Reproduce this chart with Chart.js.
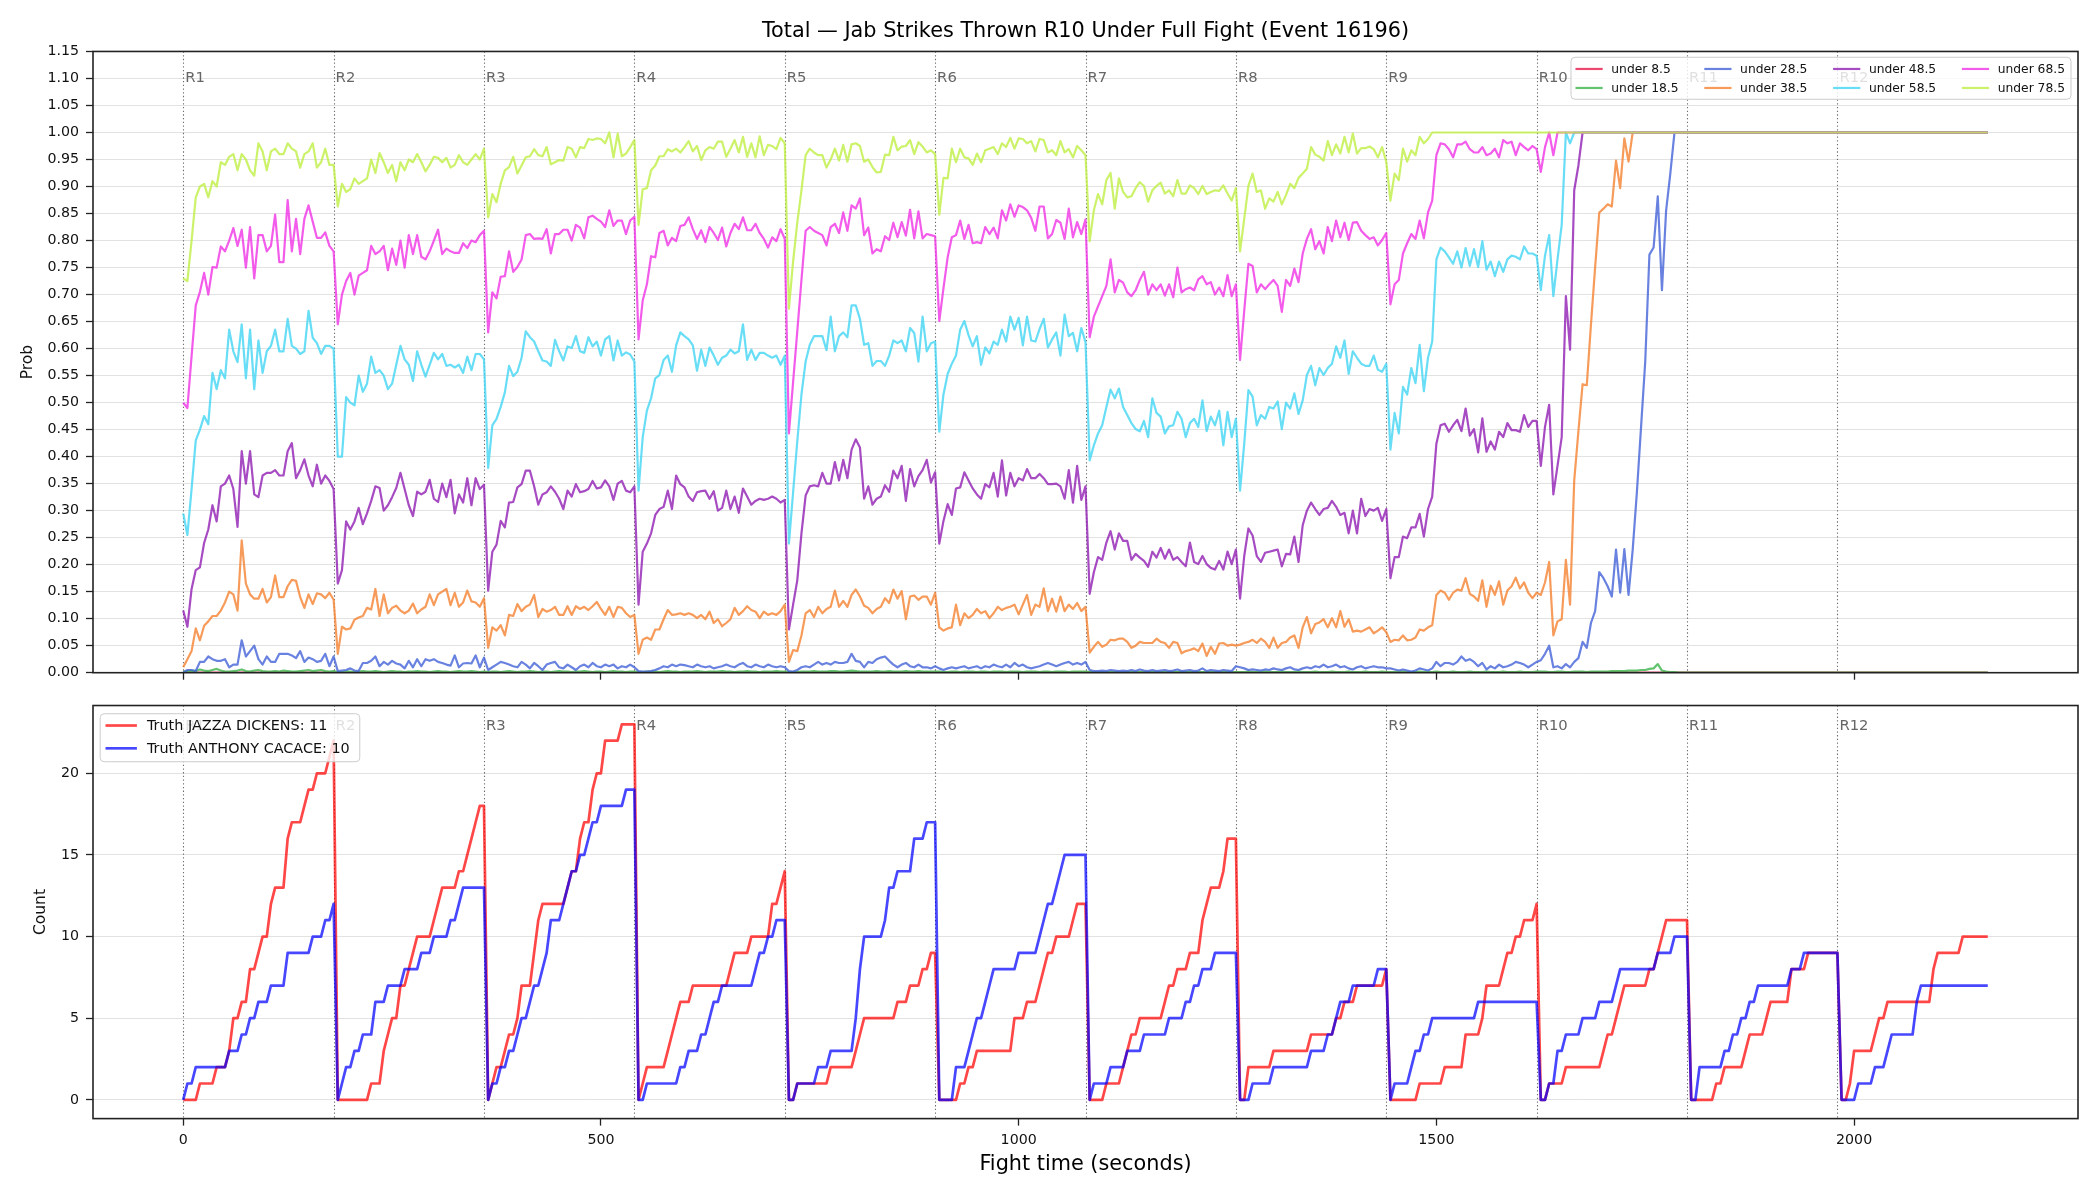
<!DOCTYPE html>
<html><head><meta charset="utf-8">
<script src="https://cdn.jsdelivr.net/npm/chart.js@4.4.1/dist/chart.umd.min.js"></script>
<style>
html,body{margin:0;padding:0;background:#fff;}
#wrap{position:relative;width:2100px;height:1200px;background:#fff;}
#topChart{position:absolute;left:0;top:0;}
#bottomChart{position:absolute;left:0;top:690px;}
</style></head><body>
<div id="wrap"><canvas id="topChart" width="2100" height="690"></canvas><canvas id="bottomChart" width="2100" height="510"></canvas></div>
<script>
// ---------------- DATA ----------------
const TITLE = 'Total — Jab Strikes Thrown R10 Under Full Fight (Event 16196)';
const X_LABEL = 'Fight time (seconds)';
const SAMPLE_SECONDS = 5;            // one sample every 5 s, t = 0 … 2160
const ROUND_STARTS = [0,180,360,540,720,900,1080,1260,1440,1620,1800,1980];
const ROUND_LABELS = ['R1','R2','R3','R4','R5','R6','R7','R8','R9','R10','R11','R12'];
const TIME_TICKS = [0,500,1000,1500,2000];
const PROB_TICKS = [0.00,0.05,0.10,0.15,0.20,0.25,0.30,0.35,0.40,0.45,0.50,0.55,0.60,0.65,0.70,0.75,0.80,0.85,0.90,0.95,1.00,1.05,1.10,1.15];
const COUNT_TICKS = [0,5,10,15,20];
const SERIES_LABELS = ['under 8.5','under 18.5','under 28.5','under 38.5','under 48.5','under 58.5','under 68.5','under 78.5'];
const FIGHTER_LABELS = ['Truth JAZZA DICKENS: 11','Truth ANTHONY CACACE: 10'];

const under85 = [
0,0,0,0,0,0,0,0,0,0,0,0,0,0,0,0,0,0,0,0,0,0,0,0,0,0,0,0,0,0,0,0,0,0,0,0,0,
0,0,0,0,0,0, 0,0,0,0,0,0, 0,0,0,0,0,0, 0,0,0,0,0,0, 0,0,0,0,0,0, 0,0,0,0,0,0,
0,0,0,0,0,0, 0,0,0,0,0,0, 0,0,0,0,0,0, 0,0,0,0,0,0, 0,0,0,0,0,0, 0,0,0,0,0,0,
0,0,0,0,0,0, 0,0,0,0,0,0, 0,0,0,0,0,0, 0,0,0,0,0,0, 0,0,0,0,0,0, 0,0,0,0,0,0,
0,0,0,0,0,0, 0,0,0,0,0,0, 0,0,0,0,0,0, 0,0,0,0,0,0, 0,0,0,0,0,0, 0,0,0,0,0,0,
0,0,0,0,0,0, 0,0,0,0,0,0, 0,0,0,0,0,0, 0,0,0,0,0,0, 0,0,0,0,0,0, 0,0,0,0,0,0,
0,0,0,0,0,0, 0,0,0,0,0,0, 0,0,0,0,0,0, 0,0,0,0,0,0, 0,0,0,0,0,0, 0,0,0,0,0,0,
0,0,0,0,0,0, 0,0,0,0,0,0, 0,0,0,0,0,0, 0,0,0,0,0,0, 0,0,0,0,0,0, 0,0,0,0,0,0,
0,0,0,0,0,0, 0,0,0,0,0,0, 0,0,0,0,0,0, 0,0,0,0,0,0, 0,0,0,0,0,0, 0,0,0,0,0,0,
0,0,0,0,0,0, 0,0,0,0,0,0, 0,0,0,0,0,0, 0,0,0,0,0,0, 0,0,0,0,0,0, 0,0,0,0,0,0,
0,0,0,0,0,0, 0,0,0,0,0,0, 0,0,0,0,0,0, 0,0,0,0,0,0, 0,0,0,0,0,0, 0,0,0,0,0,0,
0,0,0,0,0,0, 0,0,0,0,0,0, 0,0,0,0,0,0, 0,0,0,0,0,0, 0,0,0,0,0,0, 0,0,0,0,0,0
];
const under185 = [
0.002,0.003,0.004,0.003,0.006,0.004,0.003,0.005,0.007,0.004,0.002,0.002,0.003,0.004,0.006,0.003,0.002,0.004,0.005,0.003,0.002,0.002,0.003,0.002,0.004,0.003,0.002,0.002,0.003,0.004,0.005,0.003,0.004,0.005,0.003,0.002,0.003,
0.001,0.001,0.002,0.002,0.001,0.002,0.003,0.002,0.002,0.003,0.002,0.001,0.002,0.003,0.002,0.002,0.001,0.002,0.002,0.003,0.002,0.002,0.001,0.002,0.003,0.002,0.002,0.001,0.002,0.003,0.002,0.002,0.003,0.002,0.001,0.002,
0.001,0.002,0.002,0.001,0.002,0.003,0.002,0.001,0.002,0.002,0.003,0.002,0.001,0.002,0.002,0.001,0.002,0.003,0.002,0.002,0.001,0.002,0.002,0.003,0.002,0.001,0.002,0.002,0.001,0.002,0.003,0.002,0.002,0.001,0.002,0.002,
0.001,0.001,0.002,0.002,0.002,0.001,0.002,0.003,0.002,0.002,0.001,0.002,0.002,0.002,0.003,0.002,0.001,0.002,0.002,0.002,0.003,0.002,0.002,0.001,0.002,0.002,0.003,0.002,0.002,0.001,0.002,0.002,0.002,0.003,0.002,0.002,
0.001,0.001,0.001,0.002,0.002,0.002,0.003,0.002,0.002,0.002,0.003,0.003,0.002,0.002,0.003,0.004,0.003,0.002,0.002,0.002,0.002,0.003,0.002,0.002,0.003,0.002,0.002,0.002,0.003,0.002,0.002,0.003,0.002,0.002,0.002,0.002,
0.002,0.001,0.001,0.002,0.002,0.001,0.002,0.002,0.002,0.001,0.002,0.002,0.001,0.002,0.002,0.002,0.001,0.002,0.002,0.002,0.001,0.002,0.002,0.002,0.001,0.002,0.002,0.001,0.002,0.002,0.002,0.001,0.002,0.002,0.002,0.002,
0.001,0.001,0.001,0.001,0.001,0.001,0.001,0.001,0.001,0.001,0.001,0.001,0.001,0.001,0.001,0.001,0.001,0.001,0.001,0.001,0.001,0.001,0.001,0.001,0.001,0.001,0.001,0.001,0.001,0.001,0.001,0.001,0.001,0.001,0.001,0.001,
0.001,0.001,0.002,0.001,0.001,0.001,0.002,0.001,0.001,0.001,0.002,0.001,0.001,0.001,0.002,0.001,0.001,0.001,0.002,0.001,0.001,0.001,0.002,0.001,0.001,0.001,0.002,0.001,0.001,0.001,0.002,0.001,0.001,0.001,0.002,0.001,
0.001,0.001,0.001,0.002,0.001,0.001,0.001,0.002,0.001,0.001,0.001,0.002,0.001,0.001,0.001,0.002,0.001,0.001,0.001,0.002,0.001,0.001,0.001,0.002,0.001,0.001,0.001,0.002,0.001,0.001,0.001,0.002,0.001,0.001,0.001,0.002,
0.002,0.002,0.001,0.001,0.002,0.002,0.001,0.001,0.002,0.002,0.002,0.001,0.002,0.002,0.002,0.002,0.002,0.003,0.003,0.003,0.003,0.004,0.004,0.004,0.005,0.005,0.007,0.008,0.016,0.004,0.002,0.001,0.001,0,0,0,
0,0,0,0,0,0, 0,0,0,0,0,0, 0,0,0,0,0,0, 0,0,0,0,0,0, 0,0,0,0,0,0, 0,0,0,0,0,0,
0,0,0,0,0,0, 0,0,0,0,0,0, 0,0,0,0,0,0, 0,0,0,0,0,0, 0,0,0,0,0,0, 0,0,0,0,0,0
];
const under285 = [
0,0.005,0.005,0.003,0.02,0.02,0.03,0.025,0.022,0.022,0.025,0.01,0.015,0.015,0.06,0.03,0.04,0.05,0.025,0.015,0.03,0.02,0.02,0.035,0.035,0.035,0.032,0.027,0.04,0.02,0.028,0.025,0.02,0.022,0.035,0.012,0.03,
0.003,0.004,0.005,0.008,0.004,0.003,0.018,0.018,0.022,0.03,0.012,0.02,0.015,0.022,0.017,0.015,0.008,0.022,0.01,0.025,0.012,0.025,0.022,0.025,0.02,0.018,0.015,0.013,0.032,0.01,0.017,0.018,0.017,0.032,0.01,0.028,
0.005,0.01,0.015,0.02,0.018,0.015,0.012,0.01,0.02,0.015,0.008,0.018,0.012,0.005,0.015,0.018,0.02,0.01,0.008,0.015,0.01,0.005,0.012,0.015,0.01,0.018,0.012,0.01,0.015,0.012,0.015,0.008,0.012,0.01,0.015,0.01,
0.003,0.002,0.002,0.003,0.005,0.008,0.012,0.01,0.015,0.012,0.015,0.014,0.012,0.01,0.015,0.012,0.01,0.012,0.008,0.01,0.012,0.015,0.012,0.01,0.015,0.018,0.012,0.01,0.015,0.012,0.01,0.015,0.012,0.01,0.012,0.01,
0.003,0.002,0.005,0.01,0.012,0.01,0.015,0.02,0.015,0.018,0.015,0.02,0.018,0.018,0.02,0.035,0.022,0.02,0.01,0.02,0.018,0.025,0.028,0.03,0.022,0.015,0.01,0.015,0.018,0.012,0.01,0.015,0.01,0.01,0.008,0.012,
0.008,0.005,0.008,0.01,0.008,0.01,0.012,0.008,0.01,0.012,0.008,0.012,0.01,0.015,0.012,0.01,0.015,0.01,0.018,0.012,0.015,0.01,0.008,0.01,0.012,0.015,0.018,0.015,0.012,0.015,0.018,0.02,0.015,0.018,0.015,0.02,
0.005,0.003,0.003,0.004,0.003,0.005,0.004,0.003,0.004,0.003,0.005,0.003,0.006,0.004,0.003,0.005,0.003,0.004,0.005,0.003,0.004,0.006,0.003,0.004,0.005,0.003,0.004,0.008,0.003,0.005,0.004,0.003,0.005,0.004,0.003,0.012,
0.01,0.008,0.005,0.006,0.005,0.004,0.006,0.005,0.008,0.006,0.005,0.008,0.01,0.006,0.005,0.008,0.01,0.008,0.012,0.01,0.015,0.01,0.012,0.015,0.01,0.012,0.008,0.006,0.01,0.012,0.008,0.01,0.012,0.01,0.01,0.008,
0.008,0.006,0.004,0.006,0.004,0.002,0.004,0.008,0.006,0.004,0.008,0.02,0.012,0.018,0.018,0.015,0.02,0.03,0.022,0.025,0.02,0.012,0.018,0.006,0.012,0.008,0.015,0.01,0.012,0.015,0.02,0.018,0.015,0.01,0.015,0.02,
0.023,0.035,0.050,0.010,0.012,0.008,0.016,0.010,0.020,0.027,0.057,0.046,0.092,0.114,0.186,0.175,0.160,0.141,0.228,0.148,0.229,0.144,0.228,0.334,0.455,0.576,0.774,0.787,0.882,0.708,0.856,0.924,1,1,1,1,
1,1,1,1,1,1, 1,1,1,1,1,1, 1,1,1,1,1,1, 1,1,1,1,1,1, 1,1,1,1,1,1, 1,1,1,1,1,1,
1,1,1,1,1,1, 1,1,1,1,1,1, 1,1,1,1,1,1, 1,1,1,1,1,1, 1,1,1,1,1,1, 1,1,1,1,1,1
];
const under385 = [
0.01,0.025,0.04,0.082,0.06,0.087,0.095,0.105,0.105,0.115,0.13,0.15,0.145,0.115,0.245,0.165,0.145,0.137,0.137,0.155,0.13,0.14,0.18,0.14,0.14,0.16,0.172,0.17,0.14,0.12,0.145,0.127,0.147,0.145,0.138,0.148,0.135,
0.035,0.085,0.08,0.082,0.098,0.102,0.105,0.12,0.117,0.155,0.105,0.145,0.11,0.12,0.124,0.115,0.11,0.115,0.128,0.11,0.117,0.122,0.145,0.125,0.145,0.15,0.155,0.125,0.148,0.122,0.13,0.152,0.132,0.13,0.122,0.138,
0.046,0.084,0.078,0.088,0.069,0.107,0.105,0.127,0.114,0.122,0.126,0.144,0.103,0.118,0.113,0.116,0.122,0.107,0.107,0.123,0.107,0.123,0.118,0.122,0.116,0.123,0.131,0.118,0.107,0.122,0.103,0.122,0.120,0.110,0.103,0.107,
0.035,0.061,0.065,0.061,0.080,0.080,0.099,0.116,0.107,0.108,0.110,0.107,0.110,0.107,0.101,0.107,0.099,0.113,0.092,0.099,0.086,0.092,0.099,0.120,0.107,0.114,0.123,0.116,0.113,0.101,0.113,0.107,0.110,0.107,0.114,0.126,
0.020,0.042,0.040,0.069,0.110,0.116,0.103,0.122,0.110,0.118,0.122,0.152,0.122,0.133,0.122,0.144,0.154,0.141,0.124,0.120,0.110,0.118,0.122,0.138,0.129,0.154,0.137,0.151,0.099,0.141,0.143,0.135,0.141,0.141,0.126,0.148,
0.084,0.078,0.082,0.084,0.126,0.088,0.110,0.101,0.107,0.118,0.110,0.114,0.101,0.110,0.122,0.116,0.120,0.122,0.126,0.108,0.126,0.144,0.107,0.126,0.122,0.156,0.114,0.137,0.113,0.141,0.114,0.126,0.118,0.129,0.114,0.122,
0.037,0.048,0.057,0.048,0.052,0.061,0.060,0.063,0.063,0.057,0.046,0.050,0.057,0.055,0.055,0.055,0.063,0.057,0.055,0.046,0.057,0.055,0.036,0.040,0.042,0.045,0.040,0.054,0.031,0.048,0.035,0.054,0.055,0.050,0.052,0.050,
0.052,0.055,0.057,0.061,0.055,0.063,0.057,0.046,0.065,0.046,0.055,0.057,0.065,0.069,0.046,0.084,0.103,0.073,0.090,0.093,0.099,0.084,0.101,0.084,0.114,0.085,0.099,0.076,0.078,0.076,0.080,0.084,0.073,0.078,0.084,0.075,
0.057,0.061,0.060,0.069,0.060,0.061,0.065,0.080,0.078,0.084,0.088,0.144,0.152,0.148,0.135,0.148,0.154,0.152,0.175,0.146,0.141,0.133,0.171,0.122,0.161,0.144,0.169,0.126,0.152,0.160,0.176,0.156,0.167,0.148,0.138,0.148,
0.144,0.167,0.205,0.069,0.095,0.099,0.209,0.126,0.356,0.447,0.534,0.532,0.644,0.750,0.852,0.859,0.867,0.863,0.948,0.897,0.989,0.946,
1,1,1,1,1,1, 1,1,1,1,1,1, 1,1,
1,1,1,1,1,1, 1,1,1,1,1,1, 1,1,1,1,1,1, 1,1,1,1,1,1, 1,1,1,1,1,1, 1,1,1,1,1,1,
1,1,1,1,1,1, 1,1,1,1,1,1, 1,1,1,1,1,1, 1,1,1,1,1,1, 1,1,1,1,1,1, 1,1,1,1,1,1
];
const under485 = [
0.115,0.085,0.155,0.19,0.195,0.24,0.265,0.31,0.28,0.345,0.35,0.365,0.34,0.27,0.41,0.35,0.41,0.33,0.325,0.365,0.37,0.37,0.375,0.365,0.365,0.41,0.425,0.36,0.375,0.395,0.365,0.345,0.385,0.35,0.365,0.355,0.34,
0.165,0.19,0.28,0.265,0.28,0.305,0.275,0.295,0.318,0.345,0.342,0.30,0.31,0.325,0.342,0.37,0.34,0.31,0.29,0.335,0.33,0.335,0.357,0.322,0.316,0.35,0.325,0.357,0.295,0.33,0.315,0.36,0.31,0.36,0.34,0.348,
0.152,0.224,0.237,0.281,0.269,0.315,0.316,0.343,0.349,0.374,0.374,0.345,0.311,0.330,0.334,0.345,0.335,0.322,0.303,0.337,0.326,0.349,0.334,0.336,0.340,0.355,0.341,0.343,0.356,0.345,0.320,0.350,0.355,0.337,0.334,0.345,
0.126,0.224,0.239,0.258,0.292,0.303,0.307,0.337,0.303,0.365,0.349,0.343,0.326,0.318,0.334,0.336,0.337,0.322,0.336,0.300,0.305,0.337,0.303,0.326,0.296,0.341,0.326,0.311,0.318,0.322,0.320,0.322,0.326,0.322,0.315,0.320,
0.080,0.126,0.171,0.258,0.328,0.345,0.347,0.345,0.370,0.350,0.350,0.390,0.356,0.394,0.360,0.413,0.432,0.417,0.322,0.345,0.311,0.322,0.326,0.347,0.335,0.374,0.360,0.383,0.318,0.377,0.345,0.364,0.375,0.394,0.352,0.371,
0.239,0.281,0.312,0.292,0.341,0.343,0.371,0.356,0.341,0.330,0.322,0.349,0.343,0.370,0.326,0.393,0.328,0.370,0.345,0.360,0.356,0.377,0.360,0.360,0.368,0.360,0.349,0.349,0.350,0.345,0.322,0.375,0.315,0.383,0.320,0.345,
0.146,0.186,0.214,0.209,0.241,0.262,0.228,0.258,0.244,0.244,0.209,0.220,0.213,0.207,0.196,0.224,0.213,0.231,0.211,0.228,0.209,0.214,0.205,0.197,0.241,0.205,0.201,0.216,0.201,0.194,0.191,0.207,0.191,0.224,0.201,0.228,
0.137,0.216,0.267,0.254,0.216,0.205,0.222,0.224,0.226,0.228,0.197,0.220,0.219,0.252,0.205,0.273,0.300,0.315,0.303,0.292,0.303,0.305,0.318,0.307,0.292,0.296,0.258,0.300,0.258,0.322,0.290,0.303,0.300,0.305,0.281,0.303,
0.175,0.214,0.214,0.252,0.249,0.269,0.269,0.294,0.252,0.303,0.326,0.424,0.458,0.461,0.446,0.458,0.468,0.447,0.489,0.439,0.451,0.408,0.471,0.409,0.428,0.413,0.446,0.436,0.462,0.449,0.449,0.446,0.477,0.455,0.466,0.466,
0.383,0.455,0.496,0.330,0.383,0.436,0.697,0.598,0.893,0.939,
1,1,1,1,1,1, 1,1,1,1,1,1, 1,1,1,1,1,1, 1,1,1,1,1,1, 1,1,
1,1,1,1,1,1, 1,1,1,1,1,1, 1,1,1,1,1,1, 1,1,1,1,1,1, 1,1,1,1,1,1, 1,1,1,1,1,1,
1,1,1,1,1,1, 1,1,1,1,1,1, 1,1,1,1,1,1, 1,1,1,1,1,1, 1,1,1,1,1,1, 1,1,1,1,1,1
];
const under585 = [
0.295,0.255,0.34,0.43,0.45,0.475,0.46,0.555,0.525,0.56,0.545,0.635,0.595,0.575,0.645,0.545,0.635,0.525,0.615,0.555,0.595,0.605,0.635,0.595,0.595,0.655,0.605,0.60,0.59,0.595,0.67,0.62,0.61,0.59,0.605,0.605,0.60,
0.40,0.40,0.51,0.50,0.495,0.55,0.52,0.535,0.585,0.555,0.56,0.55,0.525,0.535,0.57,0.605,0.58,0.57,0.54,0.595,0.57,0.548,0.57,0.592,0.58,0.59,0.568,0.57,0.565,0.57,0.555,0.585,0.56,0.59,0.59,0.58,
0.379,0.458,0.470,0.492,0.519,0.568,0.549,0.557,0.583,0.632,0.621,0.613,0.595,0.578,0.576,0.568,0.616,0.595,0.578,0.604,0.601,0.623,0.595,0.592,0.621,0.604,0.613,0.587,0.617,0.623,0.578,0.615,0.587,0.593,0.589,0.576,
0.337,0.436,0.485,0.508,0.545,0.551,0.579,0.587,0.557,0.606,0.630,0.623,0.617,0.606,0.559,0.598,0.568,0.602,0.587,0.570,0.583,0.587,0.598,0.591,0.595,0.645,0.579,0.598,0.579,0.592,0.592,0.587,0.583,0.587,0.570,0.587,
0.239,0.334,0.428,0.515,0.576,0.607,0.623,0.623,0.623,0.597,0.659,0.595,0.623,0.630,0.621,0.680,0.680,0.655,0.607,0.610,0.568,0.577,0.577,0.568,0.587,0.615,0.610,0.615,0.595,0.638,0.629,0.576,0.659,0.595,0.610,0.613,
0.446,0.515,0.553,0.572,0.587,0.635,0.651,0.625,0.604,0.623,0.570,0.602,0.591,0.613,0.607,0.635,0.613,0.659,0.635,0.657,0.606,0.659,0.615,0.613,0.636,0.655,0.602,0.617,0.630,0.587,0.663,0.623,0.629,0.595,0.638,0.612,
0.393,0.421,0.443,0.458,0.492,0.524,0.508,0.526,0.492,0.477,0.462,0.451,0.447,0.466,0.436,0.508,0.481,0.474,0.443,0.456,0.458,0.483,0.470,0.436,0.462,0.470,0.455,0.504,0.447,0.474,0.458,0.485,0.421,0.483,0.436,0.470,
0.337,0.424,0.523,0.511,0.458,0.477,0.470,0.492,0.489,0.502,0.451,0.500,0.489,0.517,0.479,0.504,0.551,0.568,0.532,0.564,0.551,0.564,0.572,0.604,0.583,0.615,0.553,0.595,0.583,0.572,0.568,0.568,0.587,0.561,0.557,0.572,
0.413,0.481,0.443,0.529,0.515,0.564,0.536,0.607,0.521,0.583,0.613,0.765,0.787,0.780,0.769,0.757,0.780,0.750,0.786,0.753,0.784,0.751,0.799,0.746,0.761,0.734,0.761,0.742,0.765,0.772,0.770,0.765,0.789,0.776,0.776,0.772,
0.708,0.772,0.810,0.697,0.765,0.829,1,0.980,1,
1,1,1,1,1,1, 1,1,1,1,1,1, 1,1,1,1,1,1, 1,1,1,1,1,1, 1,1,1,
1,1,1,1,1,1, 1,1,1,1,1,1, 1,1,1,1,1,1, 1,1,1,1,1,1, 1,1,1,1,1,1, 1,1,1,1,1,1,
1,1,1,1,1,1, 1,1,1,1,1,1, 1,1,1,1,1,1, 1,1,1,1,1,1, 1,1,1,1,1,1, 1,1,1,1,1,1
];
const under685 = [
0.50,0.49,0.586,0.68,0.705,0.74,0.70,0.751,0.75,0.789,0.78,0.80,0.823,0.79,0.82,0.75,0.825,0.73,0.81,0.81,0.78,0.79,0.848,0.76,0.76,0.875,0.78,0.84,0.775,0.84,0.865,0.835,0.805,0.805,0.815,0.79,0.78,
0.645,0.70,0.725,0.74,0.70,0.735,0.74,0.745,0.79,0.775,0.78,0.79,0.745,0.785,0.755,0.80,0.75,0.81,0.775,0.81,0.77,0.765,0.78,0.80,0.82,0.775,0.785,0.78,0.777,0.777,0.795,0.786,0.80,0.797,0.81,0.818,
0.630,0.704,0.693,0.733,0.734,0.780,0.742,0.751,0.765,0.810,0.812,0.803,0.804,0.803,0.821,0.776,0.812,0.812,0.820,0.820,0.800,0.829,0.824,0.804,0.843,0.846,0.840,0.835,0.825,0.856,0.827,0.837,0.837,0.812,0.837,0.844,
0.617,0.689,0.719,0.771,0.769,0.814,0.818,0.791,0.805,0.799,0.827,0.829,0.843,0.821,0.803,0.819,0.797,0.825,0.814,0.801,0.824,0.789,0.814,0.831,0.821,0.843,0.819,0.819,0.831,0.814,0.803,0.787,0.806,0.799,0.821,0.803,
0.443,0.538,0.632,0.727,0.818,0.825,0.818,0.814,0.810,0.791,0.825,0.831,0.814,0.852,0.818,0.865,0.859,0.878,0.810,0.824,0.776,0.784,0.780,0.808,0.801,0.833,0.806,0.834,0.809,0.857,0.804,0.854,0.804,0.812,0.810,0.808,
0.651,0.712,0.769,0.806,0.810,0.837,0.803,0.829,0.795,0.797,0.795,0.825,0.812,0.824,0.804,0.856,0.837,0.867,0.844,0.865,0.862,0.856,0.842,0.818,0.863,0.863,0.804,0.812,0.838,0.833,0.803,0.859,0.806,0.834,0.812,0.839,
0.621,0.659,0.678,0.697,0.716,0.765,0.704,0.727,0.722,0.704,0.697,0.708,0.727,0.742,0.700,0.719,0.708,0.719,0.698,0.719,0.695,0.750,0.704,0.710,0.713,0.708,0.728,0.734,0.719,0.723,0.700,0.713,0.697,0.736,0.697,0.719,
0.579,0.670,0.757,0.753,0.704,0.719,0.710,0.719,0.727,0.716,0.668,0.727,0.716,0.748,0.723,0.776,0.803,0.821,0.784,0.799,0.776,0.825,0.799,0.837,0.806,0.833,0.801,0.833,0.834,0.818,0.810,0.803,0.806,0.791,0.801,0.814,
0.682,0.719,0.727,0.776,0.795,0.812,0.803,0.837,0.804,0.852,0.874,0.958,0.980,0.978,0.969,0.954,0.978,0.978,0.983,0.969,0.963,0.963,0.973,0.958,0.961,0.970,0.954,0.986,0.980,0.983,0.958,0.980,0.973,0.967,0.975,0.969,
0.927,0.973,1,0.958,
1,1,1,1,1,1, 1,1,1,1,1,1, 1,1,1,1,1,1, 1,1,1,1,1,1, 1,1,1,1,1,1, 1,1,
1,1,1,1,1,1, 1,1,1,1,1,1, 1,1,1,1,1,1, 1,1,1,1,1,1, 1,1,1,1,1,1, 1,1,1,1,1,1,
1,1,1,1,1,1, 1,1,1,1,1,1, 1,1,1,1,1,1, 1,1,1,1,1,1, 1,1,1,1,1,1, 1,1,1,1,1,1
];
const under785 = [
0.73,0.725,0.80,0.88,0.90,0.905,0.88,0.91,0.90,0.945,0.94,0.955,0.96,0.93,0.96,0.95,0.93,0.92,0.98,0.965,0.93,0.965,0.97,0.96,0.96,0.98,0.97,0.965,0.935,0.96,0.965,0.98,0.935,0.945,0.97,0.94,0.94,
0.863,0.905,0.89,0.895,0.915,0.905,0.91,0.915,0.95,0.925,0.962,0.945,0.925,0.94,0.91,0.945,0.93,0.95,0.945,0.96,0.945,0.928,0.94,0.955,0.953,0.945,0.953,0.935,0.94,0.958,0.945,0.94,0.95,0.96,0.95,0.97,
0.843,0.886,0.871,0.905,0.930,0.936,0.955,0.924,0.939,0.954,0.956,0.969,0.958,0.956,0.973,0.941,0.945,0.949,0.948,0.973,0.970,0.954,0.973,0.971,0.988,0.986,0.989,0.988,0.980,1.0,0.954,0.998,0.956,0.961,0.973,0.986,
0.829,0.895,0.897,0.930,0.939,0.956,0.956,0.969,0.965,0.970,0.963,0.973,0.984,0.965,0.975,0.949,0.967,0.973,0.970,0.983,0.983,0.955,0.970,0.986,0.963,0.992,0.955,0.980,0.954,0.993,0.958,0.977,0.975,0.969,0.990,0.980,
0.674,0.761,0.833,0.893,0.958,0.970,0.963,0.958,0.958,0.935,0.950,0.970,0.948,0.977,0.946,0.978,0.980,0.975,0.946,0.950,0.936,0.926,0.927,0.959,0.958,0.992,0.967,0.974,0.975,0.986,0.960,0.982,0.974,0.963,0.967,0.960,
0.848,0.916,0.915,0.970,0.945,0.970,0.954,0.952,0.940,0.961,0.945,0.967,0.970,0.973,0.960,0.980,0.973,0.990,0.970,0.989,0.988,0.980,0.984,0.965,0.988,0.986,0.963,0.967,0.958,0.984,0.963,0.969,0.954,0.975,0.967,0.958,
0.799,0.856,0.886,0.867,0.912,0.925,0.859,0.915,0.890,0.880,0.882,0.897,0.908,0.901,0.872,0.893,0.901,0.907,0.887,0.893,0.882,0.912,0.887,0.887,0.902,0.897,0.886,0.901,0.886,0.890,0.893,0.892,0.902,0.887,0.874,0.897,
0.780,0.840,0.901,0.924,0.890,0.893,0.859,0.878,0.872,0.890,0.867,0.884,0.905,0.897,0.916,0.924,0.933,0.973,0.959,0.955,0.948,0.984,0.958,0.978,0.961,0.992,0.963,0.998,0.961,0.971,0.971,0.974,0.969,0.954,0.973,0.946,
0.874,0.924,0.912,0.970,0.946,0.967,0.958,0.992,0.980,0.988,1,
1,1,1,1,1,1, 1,1,1,1,1,1, 1,1,1,1,1,1, 1,1,1,1,1,1, 1,
1,1,1,1,1,1, 1,1,1,1,1,1, 1,1,1,1,1,1, 1,1,1,1,1,1, 1,1,1,1,1,1, 1,1,1,1,1,1,
1,1,1,1,1,1, 1,1,1,1,1,1, 1,1,1,1,1,1, 1,1,1,1,1,1, 1,1,1,1,1,1, 1,1,1,1,1,1,
1,1,1,1,1,1, 1,1,1,1,1,1, 1,1,1,1,1,1, 1,1,1,1,1,1, 1,1,1,1,1,1, 1,1,1,1,1,1
];

// cumulative jab counts per round (resets each round), same 5 s sampling
const jazzaCounts = [
0,0,0,0,1,1,1,1,2,2,2,3,5,5,6,6,8,8,9,10,10,12,13,13,13,16,17,17,17,18,19,19,20,20,20,21,22,
0,0,0,0,0,0,0,0,1,1,1,3,4,5,5,7,7,8,9,10,10,10,10,11,12,13,13,13,13,14,14,15,16,17,18,18,
0,1,2,2,3,4,4,5,7,7,7,9,11,12,12,12,12,12,12,13,14,14,16,17,17,19,20,20,22,22,22,22,23,23,23,23,
0,1,2,2,2,2,2,3,4,5,6,6,6,7,7,7,7,7,7,7,7,7,8,9,9,9,9,10,10,10,10,10,12,12,13,14,
0,0,1,1,1,1,1,1,1,1,2,2,2,2,2,2,3,4,5,5,5,5,5,5,5,5,6,6,6,7,7,7,8,8,9,9,
0,0,0,0,0,1,1,2,2,3,3,3,3,3,3,3,3,3,5,5,5,6,6,6,7,8,9,9,10,10,10,10,11,12,12,12,
0,0,0,0,1,1,1,1,2,3,4,4,5,5,5,5,5,5,6,7,7,8,8,8,9,9,9,11,12,13,13,13,14,16,16,16,
0,0,2,2,2,2,2,2,3,3,3,3,3,3,3,3,3,4,4,4,4,4,4,5,5,6,6,6,7,7,7,7,7,7,7,8,
0,0,0,0,0,0,0,1,1,1,1,1,1,2,2,2,2,2,4,4,4,4,5,7,7,7,7,8,9,9,10,10,11,11,11,12,
0,0,1,1,1,1,2,2,2,2,2,2,2,2,2,3,4,4,5,6,7,7,7,7,7,7,8,8,9,10,11,11,11,11,11,11,
0,0,0,0,0,0,1,1,2,2,2,2,2,3,4,4,4,4,5,6,6,6,6,6,8,8,8,8,9,9,9,9,9,9,9,9,
0,0,1,3,3,3,3,3,4,5,5,6,6,6,6,6,6,6,6,6,6,6,8,9,9,9,9,9,9,10,10,10,10,10,10,10
];
const cacaceCounts = [
0,1,1,2,2,2,2,2,2,2,2,3,3,3,4,4,5,5,6,6,6,7,7,7,7,9,9,9,9,9,9,10,10,10,11,11,12,
0,1,2,2,3,3,4,4,4,6,6,6,7,7,7,7,8,8,8,8,9,9,9,10,10,10,10,11,11,12,13,13,13,13,13,13,
0,1,1,2,2,3,3,4,5,5,6,7,7,8,9,11,11,11,12,13,14,14,15,15,16,17,17,18,18,18,18,18,18,19,19,19,
0,0,1,1,1,1,1,1,1,1,2,2,3,3,3,4,4,5,6,6,7,7,7,7,7,7,7,7,8,9,9,10,10,11,11,11,
0,0,1,1,1,1,1,2,2,2,3,3,3,3,3,3,5,8,10,10,10,10,10,11,13,13,14,14,14,14,16,16,16,17,17,17,
0,0,0,0,2,2,2,3,4,5,5,6,7,8,8,8,8,8,8,9,9,9,9,9,10,11,12,12,13,14,15,15,15,15,15,15,
0,1,1,1,1,2,2,2,2,3,3,3,3,4,4,4,4,4,4,5,5,5,5,6,6,7,7,8,8,8,9,9,9,9,9,9,
0,0,0,1,1,1,1,1,2,2,2,2,2,2,2,2,2,3,3,3,3,4,4,5,6,6,6,7,7,7,7,7,7,8,8,8,
0,1,1,1,1,2,3,3,4,4,5,5,5,5,5,5,5,5,5,5,5,6,6,6,6,6,6,6,6,6,6,6,6,6,6,6,
0,0,1,1,3,3,4,4,4,4,5,5,5,5,6,6,6,6,7,8,8,8,8,8,8,8,8,8,9,9,9,9,10,10,10,10,
0,0,2,2,2,2,2,2,3,3,4,4,5,5,6,6,7,7,7,7,7,7,7,7,8,8,8,9,9,9,9,9,9,9,9,9,
0,0,0,0,1,1,1,1,2,2,2,3,4,4,4,4,4,4,6,7,7,7,7,7,7,7,7,7,7,7,7,7,7,7,7,7
];

// ---------------- STYLE ----------------
const FONT = 'DejaVu Sans';
const X_MIN = -108, X_MAX = 2268;
const TOP_COLORS = ['rgba(230,25,75,0.8)','rgba(60,180,75,0.8)','rgba(67,99,216,0.8)','rgba(245,130,49,0.8)',
                    'rgba(145,30,180,0.8)','rgba(66,212,244,0.8)','rgba(240,50,230,0.8)','rgba(191,239,69,0.8)'];
const FIGHTER_COLORS = ['rgba(255,0,0,0.72)','rgba(0,0,255,0.72)'];
Chart.defaults.font.family = FONT;

const TIMES = under785.map((_, i) => i * SAMPLE_SECONDS);
[under85,under185,under285,under385,under485,under585,under685,under785,jazzaCounts,cacaceCounts].forEach((a,i)=>{
  if (a.length !== TIMES.length) console.error('length mismatch', i, a.length, TIMES.length);
});
const toPoints = vals => vals.map((v, k) => ({x: TIMES[k], y: v}));

function roundsPlugin(labelY) {
  return {
    id: 'rounds',
    beforeDatasetsDraw(chart) {
      const {ctx, chartArea: a, scales: {x}} = chart;
      ctx.save();
      ctx.strokeStyle = 'rgba(60,60,60,0.75)'; ctx.lineWidth = 1.1; ctx.setLineDash([1.3, 2.4]);
      ROUND_STARTS.forEach(t => {
        const px = Math.round(x.getPixelForValue(t)) + 0.5;
        ctx.beginPath(); ctx.moveTo(px, a.top); ctx.lineTo(px, a.bottom); ctx.stroke();
      });
      ctx.restore();
    },
    afterDatasetsDraw(chart) {
      const {ctx, scales: {x, y}} = chart;
      ctx.save();
      ctx.fillStyle = '#666'; ctx.font = '14.8px ' + FONT;
      ctx.textBaseline = 'middle'; ctx.textAlign = 'left';
      ROUND_STARTS.forEach((t, i) => ctx.fillText(ROUND_LABELS[i], x.getPixelForValue(t) + 2, y.getPixelForValue(labelY)));
      ctx.restore();
    }
  };
}

function framePlugin(L) {
  return {
    id: 'frameLegend',
    afterDraw(chart) {
      const {ctx, chartArea: a} = chart;
      ctx.save();
      ctx.strokeStyle = '#222'; ctx.lineWidth = 1.6; ctx.setLineDash([]);
      ctx.strokeRect(a.left, a.top, a.right - a.left, a.bottom - a.top);
      // legend
      ctx.font = L.size + 'px ' + FONT;
      const colW = L.columns.map(col => L.handle + L.textPad + Math.max(...col.map(it => ctx.measureText(it.label).width)));
      const w = L.padL + colW.reduce((s, v) => s + v, 0) + L.colSpacing * (L.columns.length - 1) + L.padR;
      const left = L.anchor === 'right' ? a.right - L.offsetX - w : a.left + L.offsetX;
      const top = a.top + L.offsetY;
      const r = 4;
      ctx.beginPath();
      ctx.moveTo(left + r, top); ctx.lineTo(left + w - r, top); ctx.quadraticCurveTo(left + w, top, left + w, top + r);
      ctx.lineTo(left + w, top + L.height - r); ctx.quadraticCurveTo(left + w, top + L.height, left + w - r, top + L.height);
      ctx.lineTo(left + r, top + L.height); ctx.quadraticCurveTo(left, top + L.height, left, top + L.height - r);
      ctx.lineTo(left, top + r); ctx.quadraticCurveTo(left, top, left + r, top); ctx.closePath();
      ctx.fillStyle = 'rgba(255,255,255,0.8)'; ctx.fill();
      ctx.strokeStyle = '#cccccc'; ctx.lineWidth = 1; ctx.stroke();
      let cx = left + L.padL;
      L.columns.forEach((col, ci) => {
        col.forEach((it, ri) => {
          const cy = top + L.rowY[ri];
          ctx.strokeStyle = it.color; ctx.lineWidth = L.lineWidth;
          ctx.beginPath(); ctx.moveTo(cx, cy); ctx.lineTo(cx + L.handle, cy); ctx.stroke();
          ctx.fillStyle = '#111'; ctx.textBaseline = 'middle'; ctx.textAlign = 'left';
          ctx.fillText(it.label, cx + L.handle + L.textPad, cy + 0.5);
        });
        cx += colW[ci] + L.colSpacing;
      });
      ctx.restore();
    }
  };
}

const TOP_SERIES = [under85, under185, under285, under385, under485, under585, under685, under785];
const topLegend = {
  anchor: 'right', offsetX: 7, offsetY: 5.8, height: 42, padL: 4.5, padR: 6,
  handle: 27.2, textPad: 8.6, colSpacing: 25.7, rowY: [11.7, 30.7], size: 12.3, lineWidth: 2.2,
  columns: [[0,1],[2,3],[4,5],[6,7]].map(c => c.map(i => ({label: SERIES_LABELS[i], color: TOP_COLORS[i]})))
};
const bottomLegend = {
  anchor: 'left', offsetX: 7.2, offsetY: 8.2, height: 48, padL: 5.3, padR: 10,
  handle: 31.4, textPad: 10, colSpacing: 0, rowY: [11.8, 34.6], size: 14.4, lineWidth: 2.7,
  columns: [[0,1].map(i => ({label: FIGHTER_LABELS[i], color: FIGHTER_COLORS[i]}))]
};

const gridCommon = {drawTicks: true, tickLength: 7, tickWidth: 1.3, tickColor: '#222'};

new Chart(document.getElementById('topChart'), {
  type: 'line',
  data: {datasets: TOP_SERIES.map((vals, i) => ({
    label: SERIES_LABELS[i], data: toPoints(vals), borderColor: TOP_COLORS[i], backgroundColor: TOP_COLORS[i],
    borderWidth: 2.2, pointRadius: 0, tension: 0, fill: false, order: -i, borderJoinStyle: 'round'
  }))},
  options: {
    responsive: false, animation: false, devicePixelRatio: 1,
    layout: {padding: {left: 0, right: 22, top: 0, bottom: 0}},
    plugins: {
      legend: {display: false}, tooltip: {enabled: false},
      title: {display: true, fullSize: false, text: TITLE, color: '#000',
              font: {family: FONT, size: 20.8, weight: 'normal'}, padding: {top: 19.5, bottom: 7}}
    },
    scales: {
      x: {type: 'linear', min: X_MIN, max: X_MAX,
          afterBuildTicks: s => { s.ticks = TIME_TICKS.map(v => ({value: v})); },
          afterFit: s => { s.height = 17.3; },
          grid: Object.assign({drawOnChartArea: false}, gridCommon), border: {display: false},
          ticks: {display: false}},
      y: {type: 'linear', min: 0, max: 1.15,
          afterBuildTicks: s => { s.ticks = PROB_TICKS.map(v => ({value: v})); },
          afterFit: s => { s.width = 93; },
          grid: Object.assign({color: '#e2e2e2', lineWidth: 1}, gridCommon), border: {display: false},
          ticks: {color: '#111', font: {family: FONT, size: 14.2}, padding: 7, autoSkip: false, callback: v => Number(v).toFixed(2)},
          title: {display: true, text: 'Prob', color: '#111', font: {family: FONT, size: 15.5}, padding: {top: 18.6, bottom: 0}}}
    }
  },
  plugins: [roundsPlugin(1.10), framePlugin(topLegend)]
});

new Chart(document.getElementById('bottomChart'), {
  type: 'line',
  data: {datasets: [jazzaCounts, cacaceCounts].map((vals, i) => ({
    label: FIGHTER_LABELS[i], data: toPoints(vals), borderColor: FIGHTER_COLORS[i], backgroundColor: FIGHTER_COLORS[i],
    borderWidth: 2.7, pointRadius: 0, tension: 0, fill: false, order: -i, borderJoinStyle: 'round'
  }))},
  options: {
    responsive: false, animation: false, devicePixelRatio: 1,
    layout: {padding: {left: 0, right: 22, top: 14.3, bottom: 0}},
    plugins: {legend: {display: false}, tooltip: {enabled: false}, title: {display: false}},
    scales: {
      x: {type: 'linear', min: X_MIN, max: X_MAX,
          afterBuildTicks: s => { s.ticks = TIME_TICKS.map(v => ({value: v})); },
          afterFit: s => { s.height = 81.4; },
          grid: Object.assign({drawOnChartArea: false}, gridCommon), border: {display: false},
          ticks: {display: true, color: '#111', font: {family: FONT, size: 14.2}, padding: 6, maxRotation: 0, autoSkip: false, callback: v => String(v)},
          title: {display: true, text: X_LABEL, color: '#000', font: {family: FONT, size: 20.8}, padding: {top: 0, bottom: 22.5}}},
      y: {type: 'linear', min: -1.15, max: 24.15,
          afterBuildTicks: s => { s.ticks = COUNT_TICKS.map(v => ({value: v})); },
          afterFit: s => { s.width = 93; },
          grid: Object.assign({color: '#e2e2e2', lineWidth: 1}, gridCommon), border: {display: false},
          ticks: {color: '#111', font: {family: FONT, size: 14.2}, padding: 7, autoSkip: false, callback: v => String(v)},
          title: {display: true, text: 'Count', color: '#111', font: {family: FONT, size: 15.5}, padding: {top: 31.4, bottom: 0}}}
    }
  },
  plugins: [roundsPlugin(22.9), framePlugin(bottomLegend)]
});
</script>
</body></html>
